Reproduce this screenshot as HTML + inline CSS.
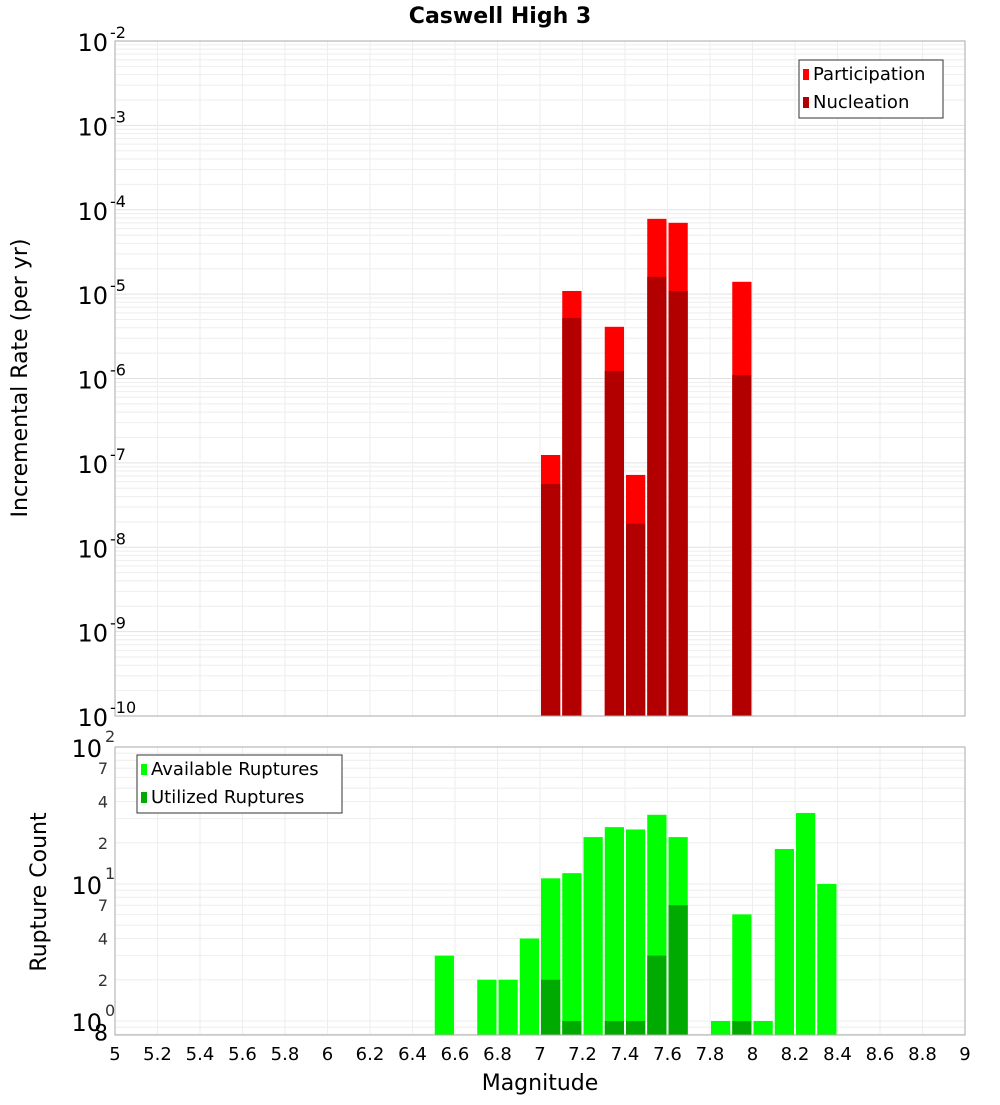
<!DOCTYPE html>
<html><head><meta charset="utf-8"><style>
body{margin:0;background:#fff;font-family:"Liberation Sans","DejaVu Sans",sans-serif}
svg text{font-family:"DejaVu Sans","Liberation Sans",sans-serif}
</style></head><body>
<svg id="c" width="1000" height="1100" xmlns="http://www.w3.org/2000/svg">
<text x="500" y="23" text-anchor="middle" font-size="22" font-weight="bold">Caswell High 3</text>
<text transform="translate(27,378) rotate(-90)" text-anchor="middle" font-size="22">Incremental Rate (per yr)</text>
<text transform="translate(46,892) rotate(-90)" text-anchor="middle" font-size="22">Rupture Count</text>
<text x="540" y="1090" text-anchor="middle" font-size="22">Magnitude</text>
<g id="g"></g>
</svg>
<script>
const mags=[7.05,7.15,7.35,7.45,7.55,7.65,7.95];
const participation=[1.24e-7,1.09e-5,4.1e-6,7.2e-8,7.8e-5,7.0e-5,1.4e-5];
const nucleation=[5.6e-8,5.2e-6,1.23e-6,1.9e-8,1.6e-5,1.09e-5,1.1e-6];
const countMags=[6.55,6.75,6.85,6.95,7.05,7.15,7.25,7.35,7.45,7.55,7.65,7.85,7.95,8.05,8.15,8.25,8.35];
const available=[3,2,2,4,11,12,22,26,25,32,22,1,6,1,18,33,10];
const utilized=[0,0,0,0,2,1,0,1,1,3,7,0,1,0,0,0,0];
const xTicks=["5","5.2","5.4","5.6","5.8","6","6.2","6.4","6.6","6.8","7","7.2","7.4","7.6","7.8","8","8.2","8.4","8.6","8.8","9"];
const NS='http://www.w3.org/2000/svg';
const g=document.getElementById('g');
const X0=115,X1=965;
const x=m=>X0+(m-5)/4*(X1-X0);
const T0=41,T1=716;
const yT=v=>T0+(-2-Math.log10(v))/8*(T1-T0);
const B0=747,B1=1035;
const yB=v=>B0+(2-Math.log10(v))*137;
function el(t,a,p){const e=document.createElementNS(NS,t);for(const k in a)e.setAttribute(k,a[k]);(p||g).appendChild(e);return e;}
// grids
for(let d=-10;d<-2;d++)for(let k=1;k<10;k++){const y=yT(k*Math.pow(10,d));
const l=el('line',{x1:X0,x2:X1,y1:y,y2:y,stroke:k==1?'#e2e2e2':'#eeeeee','stroke-width':1});

}
for(let d=-1;d<2;d++)for(let k=1;k<10;k++){const v=k*Math.pow(10,d);if(v<0.8)continue;const y=yB(v);
const l=el('line',{x1:X0,x2:X1,y1:y,y2:y,stroke:'#eeeeee','stroke-width':1});

}
xTicks.forEach(t=>{const xx=x(+t);
[[T0,T1],[B0,B1]].forEach(r=>{const l=el('line',{x1:xx,x2:xx,y1:r[0],y2:r[1],stroke:'#eeeeee'});

});
const tx=el('text',{x:xx,y:1060,'text-anchor':'middle','font-size':18});tx.textContent=t;

});
// top bars
const bw=0.1/4*(X1-X0);
mags.forEach((m,i)=>{
const p=el('rect',{x:x(m)-bw/2+1,width:bw-2,y:yT(participation[i]),height:T1-yT(participation[i]),fill:'#ff0000'});


const n=el('rect',{x:x(m)-bw/2+1,width:bw-2,y:yT(nucleation[i]),height:T1-yT(nucleation[i]),fill:'#b20000'});

});
countMags.forEach((m,i)=>{
const a=el('rect',{x:x(m)-bw/2+1,width:bw-2,y:yB(available[i]),height:B1-yB(available[i]),fill:'#00ff00'});


if(utilized[i]>0){const u=el('rect',{x:x(m)-bw/2+1,width:bw-2,y:yB(utilized[i]),height:B1-yB(utilized[i]),fill:'#00aa00'});

}});
// frames
[[T0,T1],[B0,B1]].forEach(r=>{const f=el('rect',{x:X0,y:r[0],width:X1-X0,height:r[1]-r[0],fill:'none',stroke:'#aaaaaa'});

});
// y labels top
for(let d=-2;d>=-10;d--){const y=yT(Math.pow(10,d));
const t=el('text',{x:108,y:y+10,'text-anchor':'end','font-size':24});t.textContent='10';


const e=el('text',{x:110,y:y-3,'font-size':16});e.textContent=String(d);

}
// bottom labels
[[100,'10','2'],[10,'10','1'],[1,'10','0']].forEach(a=>{const y=yB(a[0]);
const t=el('text',{x:102,y:y+10,'text-anchor':'end','font-size':24});t.textContent=a[1];


const e=el('text',{x:105,y:y-5,'font-size':16,fill:'#333'});e.textContent=a[2];

});
[70,40,20,7,4,2,0.8].forEach(v=>{const y=yB(v);
const t=el('text',{x:108,y:y+6,'text-anchor':'end','font-size':v==0.8?22:16,fill:v==0.8?'#000':'#333'});t.textContent=String(v>=10?v/10:v==0.8?8:v);

});
// legends
function legend(x0,y0,w,items,name){const lg=el('g',{});


el('rect',{x:x0,y:y0,width:w,height:58,fill:'#fff',stroke:'#333'},lg);
items.forEach((it,i)=>{el('rect',{x:x0+4,y:y0+9+i*28,width:6,height:11,fill:it[1]},lg);
const t=el('text',{x:x0+14,y:y0+20+i*28,'font-size':18},lg);t.textContent=it[0];});}
legend(799,60,144,[['Participation','#ff0000'],['Nucleation','#b20000']],'top-legend');
legend(137,755,205,[['Available Ruptures','#00ff00'],['Utilized Ruptures','#00aa00']],'bottom-legend');
</script>
</body></html>
